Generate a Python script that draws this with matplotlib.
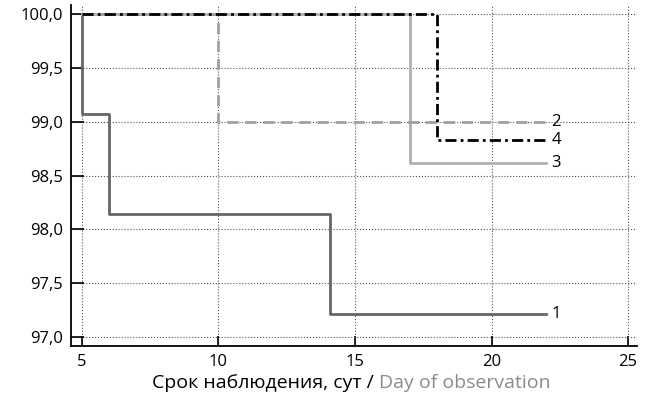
import matplotlib.pyplot as plt
from matplotlib.ticker import FuncFormatter

plt.rcParams['font.family'] = ['Open Sans', 'DejaVu Sans']

# ступінчасті криві: момент падіння та рівень після нього
days_1 = [5, 5, 6, 14.1, 22]
vals_1 = [100.0, 99.07, 98.14, 97.21, 97.21]
days_2 = [5, 10, 22]
vals_2 = [100.0, 99.0, 99.0]
days_3 = [5, 17, 22]
vals_3 = [100.0, 98.62, 98.62]
days_4 = [5, 18, 22]
vals_4 = [100.0, 98.83, 98.83]

labels = ["1", "2", "3", "4"]
x_ticks = [5, 10, 15, 20, 25]
y_ticks = [97.0, 97.5, 98.0, 98.5, 99.0, 99.5, 100.0]

fig = plt.figure(figsize=(6.48, 3.99), dpi=100)
ax = fig.add_axes([0.1096, 0.1328, 0.8735, 0.8546])

series = [
    (days_1, vals_1, dict(color="#666666", lw=2.0, ls="-")),
    (days_2, vals_2, dict(color="#a0a0a0", lw=2.0, ls=(0, (4, 2.5)))),
    (days_3, vals_3, dict(color="#b0b0b0", lw=2.0, ls="-")),
    (days_4, vals_4, dict(color="black", lw=2.0, ls=(0, (4, 1.5, 1, 1.5)))),
]
# порядок малювання: 2 під 4
for idx in [0, 2, 1, 3]:
    d, v, st = series[idx]
    ax.step(d, v, where="post", zorder=3, **st)

for (d, v, _), lab in zip(series, labels):
    ax.text(d[-1] + 0.2, v[-1], lab, fontsize=12, va="center", ha="left")

ax.set_xlim(4.6, 25.33)
ax.set_ylim(96.917, 100.084)
ax.set_xticks(x_ticks)
ax.set_yticks(y_ticks)
ax.yaxis.set_major_formatter(FuncFormatter(lambda y, _: f"{y:.1f}".replace(".", ",")))
ax.tick_params(direction="in", length=9, width=1.2, labelsize=12, pad=6)
ax.tick_params(axis="x", length=7)

for s in ["top", "right"]:
    ax.spines[s].set_visible(False)
for s in ["left", "bottom"]:
    ax.spines[s].set_linewidth(1.3)

ax.grid(True, ls=":", color="#555555", lw=0.8)

t1 = fig.text(152 / 648, 0.028, "Срок наблюдения, сут / ", ha="left", va="baseline", fontsize=14)
ax.annotate("Day of observation", xy=(1, 0), xycoords=t1, ha="left", va="bottom",
            fontsize=14, color="#8a8a8a", annotation_clip=False)

fig.savefig("out.png", dpi=100)
